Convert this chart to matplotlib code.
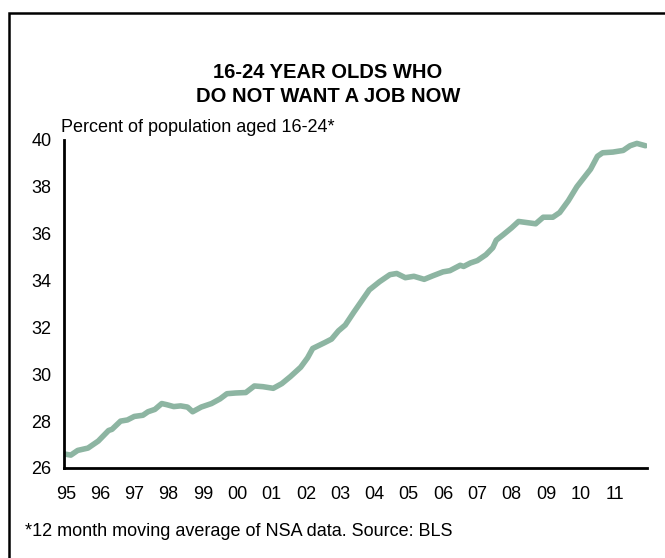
import matplotlib.pyplot as plt
from matplotlib.patches import Rectangle

plt.rcParams['font.family'] = ['Liberation Sans', 'DejaVu Sans']

# decimal year and percent
years = [1995.0, 1995.2, 1995.4, 1995.7, 1996.0, 1996.3, 1996.4, 1996.65, 1996.85,
         1997.05, 1997.3, 1997.45, 1997.65, 1997.85, 1998.0, 1998.2, 1998.4, 1998.6,
         1998.75, 1999.0, 1999.3, 1999.55, 1999.75, 2000.0, 2000.3, 2000.55, 2000.8,
         2001.1, 2001.35, 2001.6, 2001.9, 2002.1, 2002.25, 2002.6, 2002.8, 2003.0,
         2003.2, 2003.45, 2003.9, 2004.2, 2004.5, 2004.7, 2004.95, 2005.2, 2005.5,
         2005.75, 2006.05, 2006.25, 2006.55, 2006.65, 2006.85, 2007.05, 2007.3, 2007.5,
         2007.6, 2007.8, 2008.05, 2008.25, 2008.45, 2008.75, 2008.97, 2009.25, 2009.45,
         2009.7, 2009.95, 2010.35, 2010.55, 2010.7, 2011.0, 2011.3, 2011.5, 2011.7,
         2011.95]
pct = [26.6, 26.55, 26.75, 26.85, 27.15, 27.6, 27.65, 28.0, 28.05,
       28.2, 28.25, 28.4, 28.5, 28.75, 28.7, 28.62, 28.65, 28.6,
       28.4, 28.6, 28.75, 28.95, 29.17, 29.2, 29.22, 29.5, 29.47,
       29.4, 29.6, 29.9, 30.3, 30.7, 31.1, 31.35, 31.5, 31.85,
       32.1, 32.65, 33.6, 33.95, 34.25, 34.3, 34.12, 34.18, 34.05,
       34.2, 34.37, 34.42, 34.65, 34.6, 34.75, 34.85, 35.1, 35.4,
       35.72, 35.95, 36.25, 36.52, 36.48, 36.42, 36.7, 36.7, 36.9,
       37.4, 38.0, 38.75, 39.3, 39.45, 39.48, 39.55, 39.75, 39.85,
       39.75]

tick_years = list(range(1995, 2012))
tick_labels = ['%02d' % (y % 100) for y in tick_years]

fig = plt.figure(figsize=(6.65, 5.58), dpi=100)
ax = fig.add_axes([0.0962, 0.1613, 0.877, 0.588])

ax.plot(years, pct, color='#8db5a2', lw=4.0, solid_capstyle='round')

ax.set_xlim(1995, 2012)
ax.set_ylim(26, 40)
ax.set_yticks(range(26, 41, 2))
ax.set_xticks([y + 0.05 for y in tick_years])
ax.set_xticklabels(tick_labels)
ax.tick_params(length=0, labelsize=13)
ax.tick_params(axis='y', pad=9)
ax.tick_params(axis='x', pad=13)
for s in ['top', 'right']:
    ax.spines[s].set_visible(False)
for s in ['left', 'bottom']:
    ax.spines[s].set_linewidth(2)

fig.text(0.493, 1 - 72 / 558, '16-24 YEAR OLDS WHO', ha='center', va='center',
         fontsize=14.5, fontweight='bold')
fig.text(0.493, 1 - 97 / 558, 'DO NOT WANT A JOB NOW', ha='center', va='center',
         fontsize=14.5, fontweight='bold')
fig.text(61 / 665, 1 - 127 / 558, 'Percent of population aged 16-24*', ha='left',
         va='center', fontsize=13)
fig.text(25 / 665, 1 - 532 / 558, '*12 month moving average of NSA data. Source: BLS',
         ha='left', va='center', fontsize=13)

fig.patches.append(Rectangle((9 / 665, -0.05), 1.1, 1 - 13 / 558 + 0.05,
                             transform=fig.transFigure, fill=False,
                             edgecolor='black', lw=1.8))

fig.savefig('out.png', dpi=100)
